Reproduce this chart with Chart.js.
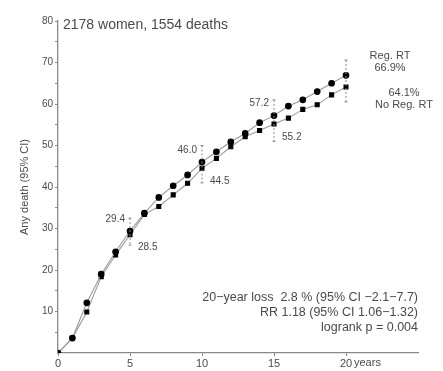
<!DOCTYPE html>
<html>
<head>
<meta charset="utf-8">
<script src="https://cdn.jsdelivr.net/npm/chart.js@4/dist/chart.umd.min.js"></script>
<style>
  html, body { margin: 0; padding: 0; background: #fff; }
  #wrap { width: 443px; height: 371px; }
</style>
</head>
<body>
<div id="wrap"><canvas id="km"></canvas></div>
<script>
// years of follow-up
const years = [0, 1, 2, 3, 4, 5, 6, 7, 8, 9, 10, 11, 12, 13, 14, 15, 16, 17, 18, 19, 20];

// cumulative death (%)
const regRT = [0, 3.6, 12.1, 19.0, 24.4, 29.4, 33.7, 37.5, 40.3, 42.9, 46.0, 48.5, 50.9, 52.9, 55.5, 57.2, 59.5, 61.0, 63.0, 65.0, 66.9];
const noRegRT = [0, 3.6, 9.9, 18.4, 23.6, 28.5, 33.4, 35.3, 38.1, 40.9, 44.5, 46.9, 49.7, 52.1, 53.6, 55.2, 56.6, 58.7, 59.8, 62.2, 64.1];

// confidence bars at 5-year marks
const ciYears = [5, 10, 15, 20];
const ciLow = [26.0, 41.0, 51.0, 60.5];
const ciHigh = [32.5, 50.0, 61.0, 70.6];

const yTicks = [10, 20, 30, 40, 50, 60, 70, 80];
const xTicks = [0, 5, 10, 15, 20];

const textColor = '#4a4a4a';
const lineColor = '#9a9a9a';
const font = '"Liberation Sans", Arial, sans-serif';

const extras = {
  id: 'extras',
  afterDatasetsDraw(chart) {
    const ctx = chart.ctx;
    const x = chart.scales.x;
    const y = chart.scales.y;

    // dashed CI bars
    ctx.save();
    ctx.strokeStyle = '#888';
    ctx.lineWidth = 1;
    ctx.setLineDash([2, 2]);
    ciYears.forEach((yr, i) => {
      const px = x.getPixelForValue(yr);
      ctx.beginPath();
      ctx.moveTo(px, y.getPixelForValue(ciHigh[i]));
      ctx.lineTo(px, y.getPixelForValue(ciLow[i]));
      ctx.stroke();
    });
    ctx.setLineDash([]);
    ciYears.forEach((yr, i) => {
      const px = x.getPixelForValue(yr);
      [ciHigh[i], ciLow[i]].forEach(v => {
        const py = y.getPixelForValue(v);
        ctx.beginPath();
        ctx.moveTo(px - 1.5, py);
        ctx.lineTo(px + 1.5, py);
        ctx.stroke();
      });
    });
    ctx.restore();

    ctx.save();
    ctx.fillStyle = textColor;
    ctx.font = '10px ' + font;
    ctx.textBaseline = 'middle';

    // value labels next to 5-year points
    [5, 10, 15].forEach(yr => {
      const i = years.indexOf(yr);
      const px = x.getPixelForValue(yr);
      ctx.textAlign = 'right';
      ctx.fillText(regRT[i].toFixed(1), px - 5, y.getPixelForValue(regRT[i]) - 12);
      ctx.textAlign = 'left';
      ctx.fillText(noRegRT[i].toFixed(1), px + 8, y.getPixelForValue(noRegRT[i]) + 13);
    });

    // group labels at the end
    const last = years.length - 1;
    const ex = x.getPixelForValue(20);
    ctx.font = '11px ' + font;
    ctx.textAlign = 'center';
    ctx.fillText('Reg. RT', ex + 44, y.getPixelForValue(regRT[last]) - 19);
    ctx.fillText(regRT[last] + '%', ex + 44, y.getPixelForValue(regRT[last]) - 7);
    ctx.fillText(noRegRT[last] + '%', ex + 58, y.getPixelForValue(noRegRT[last]) + 6);
    ctx.fillText('No Reg. RT', ex + 58, y.getPixelForValue(noRegRT[last]) + 18);

    // top label
    ctx.textAlign = 'left';
    ctx.font = '14px ' + font;
    ctx.fillText('2178 women, 1554 deaths', x.left + 5, y.getPixelForValue(80) + 4);

    // summary block
    ctx.textAlign = 'right';
    ctx.font = '12.5px ' + font;
    const rx = x.right;
    ctx.fillText('20\u2212year loss  2.8 % (95% CI \u22122.1\u22127.7)', rx, 298);
    ctx.fillText('RR 1.18 (95% CI 1.06\u22121.32)', rx, 313);
    ctx.fillText('logrank p = 0.004', rx, 328);

    // "years" after the 20 tick
    ctx.textAlign = 'left';
    ctx.font = '11px ' + font;
    ctx.fillText('years', x.getPixelForValue(20) + 8, 363);
    ctx.restore();
  }
};

new Chart(document.getElementById('km'), {
  type: 'line',
  data: {
    datasets: [{
      label: 'Reg. RT',
      data: years.map((yr, i) => ({ x: yr, y: regRT[i] })),
      borderColor: lineColor,
      borderWidth: 1.1,
      pointStyle: 'circle',
      pointRadius: 2.8,
      pointBackgroundColor: '#000',
      pointBorderColor: '#000',
      tension: 0
    }, {
      label: 'No Reg. RT',
      data: years.map((yr, i) => ({ x: yr, y: noRegRT[i] })),
      borderColor: lineColor,
      borderWidth: 1.1,
      pointStyle: 'rect',
      pointRadius: 2.8,
      pointBackgroundColor: '#000',
      pointBorderColor: '#000',
      tension: 0
    }]
  },
  options: {
    responsive: true,
    maintainAspectRatio: false,
    animation: false,
    layout: { padding: { top: 21, right: 25, left: 18, bottom: 0 } },
    plugins: {
      legend: { display: false },
      tooltip: { enabled: false }
    },
    scales: {
      x: {
        type: 'linear',
        min: 0,
        max: 25,
        afterFit: s => { s.height = 18; },
        afterBuildTicks: s => { s.ticks = xTicks.map(v => ({ value: v })); },
        ticks: {
          color: textColor,
          font: { size: 11, family: font },
          padding: 1,
          maxRotation: 0
        },
        grid: { drawOnChartArea: false, tickLength: 3, color: '#888' },
        border: { color: '#888', width: 1.3 }
      },
      y: {
        min: 0,
        max: 80,
        afterFit: s => { s.width = 40; },
        afterBuildTicks: s => {
          const t = [];
          for (let v = 5; v <= 80; v += 5) t.push({ value: v });
          s.ticks = t;
        },
        ticks: {
          color: textColor,
          font: { size: 10, family: font },
          padding: 2,
          callback: v => yTicks.includes(v) ? v : ''
        },
        title: {
          display: true,
          text: 'Any death (95% CI)',
          color: textColor,
          font: { size: 11, family: font },
          padding: { top: 0, bottom: 2 }
        },
        grid: { drawOnChartArea: false, tickLength: 3, color: '#888' },
        border: { color: '#888', width: 1.3 }
      }
    }
  },
  plugins: [extras]
});
</script>
</body>
</html>
